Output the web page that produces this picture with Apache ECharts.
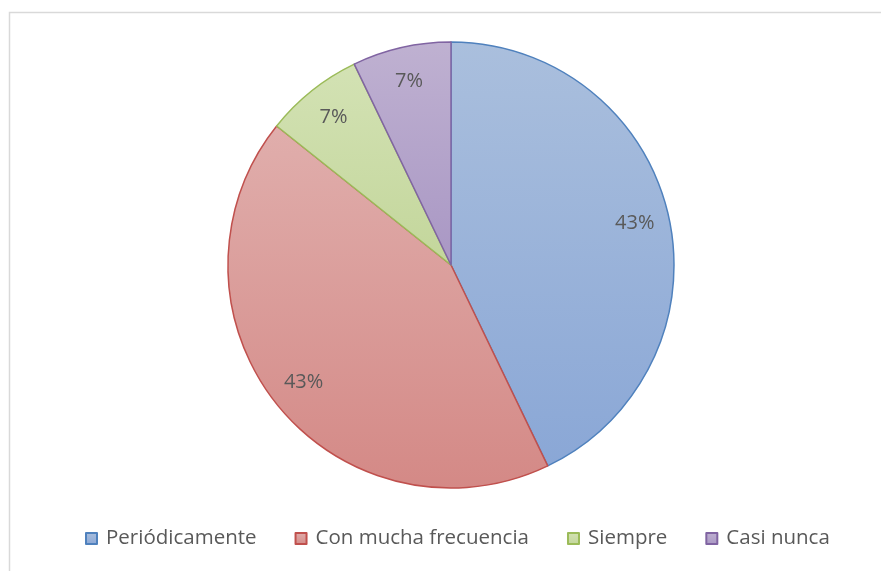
<!DOCTYPE html>
<html>
<head>
<meta charset="utf-8">
<script src="https://cdn.jsdelivr.net/npm/echarts@6/dist/echarts.min.js"></script>
<style>
html,body{margin:0;padding:0;background:#fff;}
#chart{width:881px;height:571px;}
</style>
</head>
<body>
<div id="chart"></div>
<script>
// datos
var categorias = ['Periódicamente', 'Con mucha frecuencia', 'Siempre', 'Casi nunca'];
var valores = [6, 6, 1, 1];

var bordes = ['#4f81bd', '#c0504d', '#9bbb59', '#8064a2'];
var arriba = ['#aabfdd', '#e0aeac', '#d3e2b4', '#bfb1d1'];
var abajo = ['#8aa7d6', '#d48986', '#c3d69b', '#a997c4'];

function grad(i){
    return new echarts.graphic.LinearGradient(0, 0, 0, 1, [
        {offset: 0, color: arriba[i]},
        {offset: 1, color: abajo[i]}
    ]);
}

var datos = categorias.map(function(c, i){
    return {
        name: c,
        value: valores[i],
        itemStyle: {color: grad(i), borderColor: bordes[i]}
    };
});
var etiquetas = categorias.map(function(c, i){
    return {name: c, value: valores[i]};
});

var fuente = '"Open Sans", "Noto Sans", sans-serif';
var chart = echarts.init(document.getElementById('chart'));
chart.setOption({
    animation: false,
    graphic: [{
        type: 'rect',
        shape: {x: 9.5, y: 12.5, width: 900, height: 600},
        style: {fill: 'none', stroke: '#d9d9d9', lineWidth: 1.5},
        silent: true
    }],
    legend: {
        data: categorias,
        top: 523,
        left: 80,
        itemWidth: 11,
        itemHeight: 11,
        itemGap: 38,
        icon: 'rect',
        textStyle: {color: '#595959', fontSize: 20.5, fontFamily: fuente, padding: [0, 0, 0, 4]}
    },
    series: [{
        type: 'pie',
        center: [451, 265],
        radius: [0, 223],
        startAngle: 90,
        clockwise: true,
        data: datos,
        itemStyle: {borderWidth: 1.5},
        label: {show: false},
        labelLine: {show: false},
        emphasis: {disabled: true}
    }, {
        // serie invisible solo para poner las etiquetas
        type: 'pie',
        center: [451, 265],
        radius: [148, 223],
        startAngle: 90,
        clockwise: true,
        silent: true,
        data: etiquetas,
        itemStyle: {color: 'transparent', borderWidth: 0},
        label: {
            show: true,
            position: 'inside',
            color: '#595959',
            fontSize: 20,
            fontFamily: fuente,
            formatter: function(p){ return Math.round(p.percent) + '%'; }
        },
        labelLine: {show: false},
        emphasis: {disabled: true}
    }]
});
</script>
</body>
</html>
